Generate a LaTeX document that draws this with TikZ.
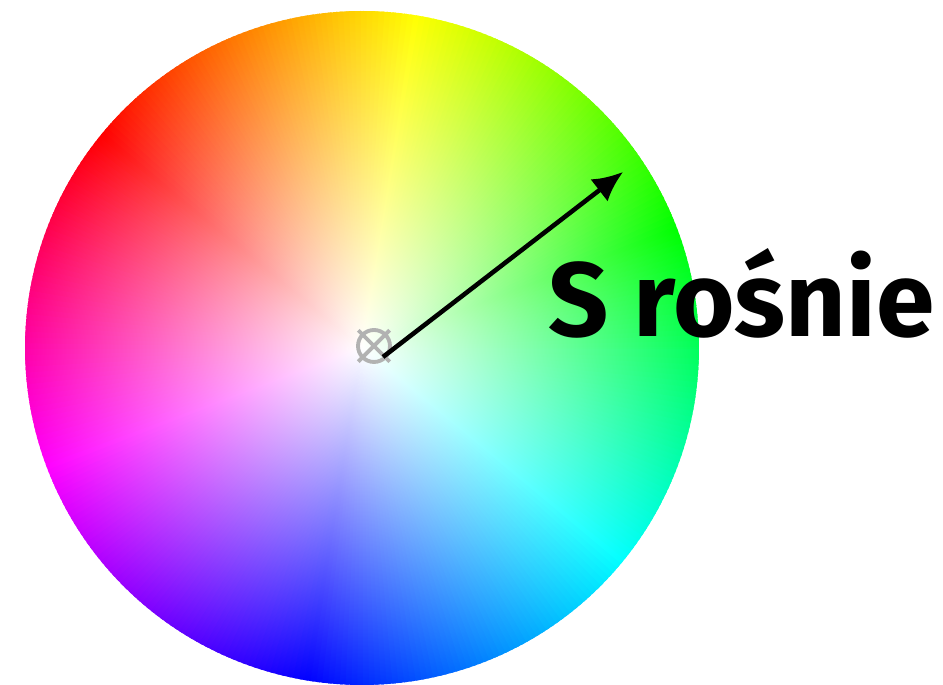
\documentclass[tikz,border=0pt]{standalone}
\usepackage{fontspec}
\setmainfont{Fira Sans}
\usepackage{xcolor}
\usepackage{tikz}
\usetikzlibrary{arrows.meta,positioning,fadings}
\newcommand{\wheelr}{3.37}
\pgfdeclareradialshading{wheelwash}{\pgfpointorigin}{color(0bp)=(pgftransparent!0); color(25bp)=(pgftransparent!100); color(50bp)=(pgftransparent!100)}
\tikzfading[name=wheelfade, shading=wheelwash]

\begin{document}
\begin{tikzpicture}[every node/.style={font=\bfseries\fontsize{30}{36}\selectfont}]
\tikzstyle{marker}=[draw=gray!60, line width=1.1pt, circle, minimum size=3.2mm, inner sep=0pt]
\useasboundingbox (-3.62,-3.37) rectangle (5.81,3.48);
% hue wheel: pure hue wedges, washed to white towards the centre
\foreach \a in {0,1,...,359}{
  \pgfmathsetmacro{\hue}{mod(141-\a+720,360)}
  \definecolor{wedgecol}{Hsb}{\hue,1,1}
  \fill[wedgecol] (0,0) -- (\a-0.8:\wheelr) arc (\a-0.8:\a+0.8:\wheelr) -- cycle;
}
\fill[white, path fading=wheelfade] (0,0) circle (\wheelr);
\coordinate (ctr) at (0,0);
\node[marker] (mark) at (0.12,0.02) {};
\draw[gray!60, line width=1.1pt] ([shift={(-0.03,0.03)}]mark.north west) -- ([shift={(0.03,-0.03)}]mark.south east)
  ([shift={(0.03,0.03)}]mark.north east) -- ([shift={(-0.03,-0.03)}]mark.south west);
\coordinate (start) at (0.21,-0.09);
\coordinate (tip) at (2.61,1.76);
\draw[-{Latex[length=3mm, width=2.8mm]}, line width=1.3pt] (start) -- (tip);
\node[anchor=base west, inner sep=0pt] (lbl) at (1.86,0.11) {S rośnie};
\end{tikzpicture}
\end{document}
